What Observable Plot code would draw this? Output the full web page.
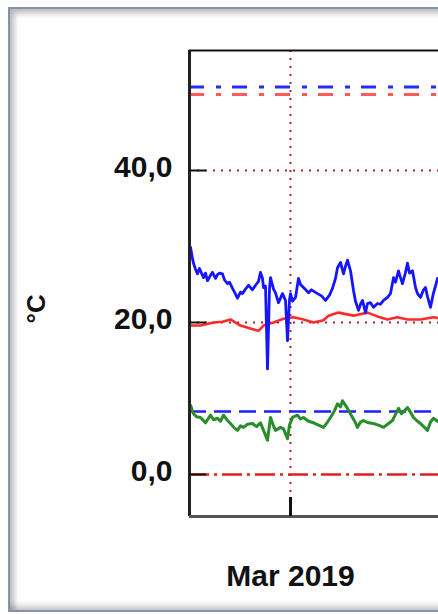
<!DOCTYPE html>
<html>
<head>
<meta charset="utf-8">
<script src="https://cdn.jsdelivr.net/npm/d3@7"></script>
<script src="https://cdn.jsdelivr.net/npm/@observablehq/plot@0.6"></script>
<style>
  html, body { margin: 0; padding: 0; width: 438px; height: 614px; overflow: hidden; background: #fff; }
  #frame { position: absolute; left: 8px; top: 7px; width: 440px; height: 601px; border: 2px solid #8593aa;
    box-shadow: inset 4px 4px 6px rgba(0,0,0,0.28), inset -4px -4px 6px rgba(0,0,0,0.22); }
  #chart { position: absolute; left: 0; top: 0; }
</style>
</head>
<body>
<div id="frame"></div>
<div id="chart"></div>
<script>
// ---- data ----
const blueDates = ["2019-02-12 08:00","2019-02-12 16:00","2019-02-12 20:00","2019-02-13 04:00","2019-02-13 12:00","2019-02-13 20:00","2019-02-14 00:00","2019-02-14 08:00","2019-02-14 12:00","2019-02-14 20:00","2019-02-15 04:00","2019-02-15 16:00","2019-02-16 00:00","2019-02-16 12:00","2019-02-16 20:00","2019-02-17 04:00","2019-02-17 16:00","2019-02-18 00:00","2019-02-18 12:00","2019-02-18 20:00","2019-02-19 08:00","2019-02-19 16:00","2019-02-20 04:00","2019-02-20 16:00","2019-02-21 00:00","2019-02-21 12:00","2019-02-22 00:00","2019-02-22 16:00","2019-02-23 04:00","2019-02-23 16:00","2019-02-24 00:00","2019-02-24 08:00","2019-02-24 12:00","2019-02-24 20:00","2019-02-25 04:00","2019-02-25 12:00","2019-02-25 16:00","2019-02-26 04:00","2019-02-26 12:00","2019-02-27 00:00","2019-02-27 08:00","2019-02-27 16:00","2019-02-28 04:00","2019-02-28 12:00","2019-02-28 20:00","2019-03-01 00:00","2019-03-01 08:00","2019-03-01 20:00","2019-03-02 08:00","2019-03-02 16:00","2019-03-03 04:00","2019-03-03 16:00","2019-03-04 00:00","2019-03-04 12:00","2019-03-05 12:00","2019-03-06 04:00","2019-03-06 20:00","2019-03-07 12:00","2019-03-08 00:00","2019-03-08 12:00","2019-03-08 20:00","2019-03-09 08:00","2019-03-09 20:00","2019-03-10 04:00","2019-03-10 12:00","2019-03-11 00:00","2019-03-11 12:00","2019-03-11 20:00","2019-03-12 08:00","2019-03-12 16:00","2019-03-13 00:00","2019-03-13 12:00","2019-03-13 20:00","2019-03-14 08:00","2019-03-14 20:00","2019-03-15 12:00","2019-03-16 00:00","2019-03-16 12:00","2019-03-17 04:00","2019-03-17 16:00","2019-03-18 04:00","2019-03-18 12:00","2019-03-19 00:00","2019-03-19 08:00","2019-03-19 16:00","2019-03-20 04:00","2019-03-20 12:00","2019-03-20 20:00","2019-03-21 08:00","2019-03-21 20:00","2019-03-22 04:00","2019-03-22 16:00","2019-03-23 04:00","2019-03-23 12:00","2019-03-23 20:00","2019-03-24 08:00","2019-03-24 20:00","2019-03-25 04:00","2019-03-25 12:00","2019-03-26 04:00"];
const blueTemps = [29.9,28.4,27.8,27.0,26.4,27.1,26.8,26.2,25.9,26.5,25.5,26.2,26.6,25.8,26.3,26.5,26.4,25.6,25.1,25.3,24.5,24.0,23.2,24.0,23.8,24.4,24.9,24.3,24.9,25.4,26.6,25.8,24.6,24.8,13.9,24.5,25.9,24.4,23.9,22.6,23.2,23.8,22.9,17.6,23.0,23.8,22.8,23.3,25.8,25.0,24.6,24.2,23.9,24.3,23.8,23.5,22.9,23.6,24.5,25.8,27.2,27.9,26.4,27.4,28.2,26.8,24.2,22.8,21.6,22.4,22.9,21.3,22.5,22.6,22.0,22.5,22.4,22.9,23.3,23.8,25.9,25.3,26.8,25.9,25.1,26.6,27.8,26.5,26.8,24.6,23.8,23.3,24.3,24.6,23.4,22.0,23.9,24.8,25.8,25.3];

const redDates = ["2019-02-12 08:00","2019-02-14 00:00","2019-02-16 04:00","2019-02-17 16:00","2019-02-19 00:00","2019-02-20 16:00","2019-02-22 08:00","2019-02-23 16:00","2019-02-24 12:00","2019-02-26 04:00","2019-02-27 20:00","2019-03-01 12:00","2019-03-03 04:00","2019-03-04 20:00","2019-03-06 12:00","2019-03-07 08:00","2019-03-09 00:00","2019-03-11 12:00","2019-03-13 20:00","2019-03-15 12:00","2019-03-17 04:00","2019-03-18 20:00","2019-03-20 12:00","2019-03-22 16:00","2019-03-24 20:00","2019-03-26 04:00"];
const redTemps = [19.6,19.6,20.0,20.1,20.4,19.6,19.2,18.9,19.6,20.0,20.5,20.7,20.4,20.0,20.3,20.9,21.3,20.9,21.3,20.8,20.4,20.7,20.4,20.4,20.7,20.5];

const greenDates = ["2019-02-12 08:00","2019-02-12 20:00","2019-02-13 08:00","2019-02-14 00:00","2019-02-14 20:00","2019-02-15 16:00","2019-02-16 04:00","2019-02-16 20:00","2019-02-17 08:00","2019-02-17 20:00","2019-02-18 12:00","2019-02-19 00:00","2019-02-19 16:00","2019-02-20 04:00","2019-02-20 16:00","2019-02-21 04:00","2019-02-21 20:00","2019-02-22 16:00","2019-02-23 08:00","2019-02-24 00:00","2019-02-24 12:00","2019-02-25 04:00","2019-02-25 16:00","2019-02-26 04:00","2019-02-26 12:00","2019-02-27 08:00","2019-02-27 20:00","2019-02-28 12:00","2019-02-28 20:00","2019-03-01 08:00","2019-03-02 04:00","2019-03-02 16:00","2019-03-03 04:00","2019-03-04 00:00","2019-03-04 20:00","2019-03-05 16:00","2019-03-06 12:00","2019-03-07 04:00","2019-03-07 16:00","2019-03-08 08:00","2019-03-08 20:00","2019-03-09 08:00","2019-03-09 16:00","2019-03-10 12:00","2019-03-11 08:00","2019-03-11 20:00","2019-03-12 04:00","2019-03-12 16:00","2019-03-13 04:00","2019-03-14 00:00","2019-03-14 20:00","2019-03-15 16:00","2019-03-16 12:00","2019-03-17 04:00","2019-03-18 00:00","2019-03-18 12:00","2019-03-19 00:00","2019-03-19 12:00","2019-03-20 12:00","2019-03-21 00:00","2019-03-21 12:00","2019-03-22 04:00","2019-03-22 16:00","2019-03-23 08:00","2019-03-23 20:00","2019-03-24 08:00","2019-03-24 20:00","2019-03-25 12:00","2019-03-26 04:00"];
const greenTemps = [9.1,8.0,7.6,7.5,6.8,7.8,7.2,7.4,7.0,7.8,7.1,6.7,6.1,5.8,6.4,6.2,6.6,6.7,6.3,6.8,5.8,4.5,7.5,6.4,5.8,6.2,6.0,4.7,6.5,7.5,7.8,7.3,7.5,7.0,6.8,6.5,6.2,6.9,7.5,8.4,9.3,8.9,9.7,8.7,7.5,6.8,6.2,6.9,7.1,6.8,6.7,6.5,6.2,6.6,7.1,7.9,8.7,8.0,8.8,8.2,7.5,7.0,6.7,6.2,5.8,6.9,7.4,7.0,7.3];

const upperBlueLimit = 51;
const upperRedLimit = 50;
const lowerBlueLimit = 8.3;
const lowerRedLimit = 0;

const yTicks = [0, 20, 40];
const xTicks = ["2019-03-01 00:00"];
const xDomainDates = ["2019-02-12 04:00", "2019-04-01 00:00"];
const yDomain = [-5.53, 55.79];
const yLabel = "°C";

// ---- build ----
const parse = d3.utcParse("%Y-%m-%d %H:%M");
const toRows = (ds, vs) => ds.map((d, i) => ({date: parse(d), value: vs[i]}));
const blue = toRows(blueDates, blueTemps);
const red = toRows(redDates, redTemps);
const green = toRows(greenDates, greenTemps);
const xDomain = xDomainDates.map(parse);
const xTickDates = xTicks.map(parse);
const fmtY = d => d.toFixed(1).replace(".", ",");
const fmtX = d3.utcFormat("%b %Y");

const gridStyle = {stroke: "#a82828", strokeWidth: 2, strokeDasharray: "2 6"};

const chart = Plot.plot({
  width: 480,
  height: 614,
  marginLeft: 189,
  marginRight: 4,
  marginTop: 50,
  marginBottom: 98,
  x: {type: "utc", domain: xDomain, label: null},
  y: {domain: yDomain, label: null},
  style: {background: "transparent", maxWidth: "none", fontFamily: "'Liberation Sans', Arial, sans-serif", fontSize: "30px", fontWeight: "bold", color: "#111", overflow: "visible"},
  marks: [
    Plot.ruleY(yTicks.filter(d => d !== 0), {...gridStyle}),
    Plot.ruleX(xTickDates, {...gridStyle}),
    Plot.ruleY([upperBlueLimit], {stroke: "#2a2aff", strokeWidth: 3, strokeDasharray: "15 12 5 11"}),
    Plot.ruleY([upperRedLimit], {stroke: "#ff5a5a", strokeWidth: 3, strokeDasharray: "15 12 5 11"}),
    Plot.ruleY([lowerRedLimit], {stroke: "#e02020", strokeWidth: 2.5, strokeDasharray: "20 5 3 5"}),
    Plot.ruleY([lowerBlueLimit], {stroke: "#1e1eff", strokeWidth: 2.5, strokeDasharray: "17 8"}),
    Plot.lineY(red, {x: "date", y: "value", stroke: "#ff2a2a", strokeWidth: 2.6}),
    Plot.lineY(green, {x: "date", y: "value", stroke: "#2a8c2a", strokeWidth: 3}),
    Plot.lineY(blue, {x: "date", y: "value", stroke: "#1515ff", strokeWidth: 2.8}),
    Plot.ruleX([xDomain[0]], {stroke: "#222", strokeWidth: 3}),
    Plot.ruleY([yDomain[1]], {stroke: "#111", strokeWidth: 2}),
    Plot.ruleY([yDomain[0]], {stroke: "#555", strokeWidth: 3}),
    Plot.axisY({ticks: yTicks, label: null, tickSize: 17, dx: 17, tickFormat: () => "", stroke: "#111", strokeWidth: 2}),
    Plot.axisY({ticks: yTicks, label: null, tickSize: 0, tickPadding: 17, dy: -3, tickFormat: fmtY, fill: "#111"}),
    Plot.axisX({ticks: xTickDates, label: null, tickSize: 19, dy: -19, tickFormat: () => "", stroke: "#111", strokeWidth: 3}),
    Plot.axisX({ticks: xTickDates, label: null, tickSize: 0, tickPadding: 48, tickFormat: fmtX, fill: "#111"}),
    Plot.text([yLabel], {frameAnchor: "left", dx: -153, dy: 40, rotate: -90, fontSize: 26, fill: "#111"})
  ]
});
document.getElementById("chart").appendChild(chart);
</script>
</body>
</html>
